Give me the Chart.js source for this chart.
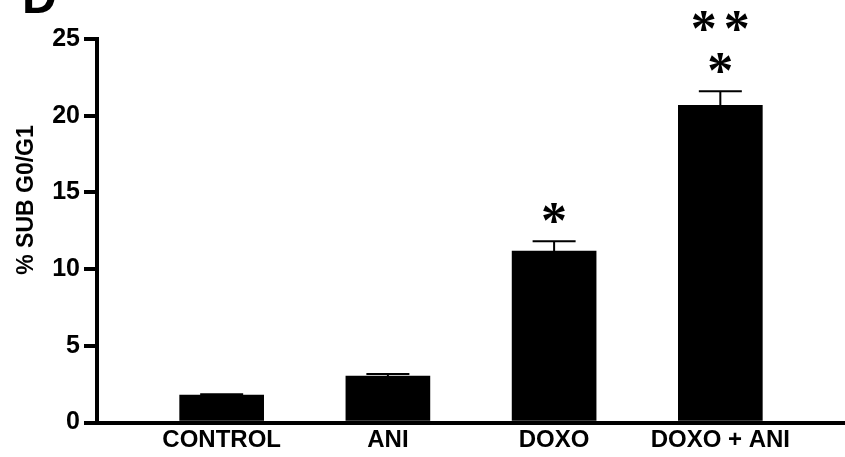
<!DOCTYPE html>
<html>
<head>
<meta charset="utf-8">
<script src="https://cdn.jsdelivr.net/npm/chart.js@4.4.1/dist/chart.umd.min.js"></script>
<style>
  html, body { margin: 0; padding: 0; background: #fff; }
  canvas { display: block; }
</style>
</head>
<body>
<canvas id="subG1Chart" width="845" height="457"></canvas>
<script>
// values
const groups = ['CONTROL', 'ANI', 'DOXO', 'DOXO + ANI']
const subG0G1 = [1.78, 3.03, 11.17, 20.68]
const semErr = [0.06, 0.13, 0.65, 0.92]
const starsLow = ['', '', '*', '*']
const starsHigh = ['', '', '', '**']
const yTicks = [0, 5, 10, 15, 20, 25]
const yTitle = '% SUB G0/G1'
const panelLetter = 'D'

const FONT = "'Liberation Sans', Arial, sans-serif"

// error bars + significance stars
const errorBars = {
    id: 'errorBars',
    afterDatasetsDraw(chart) {
        const { ctx, scales: { x, y } } = chart
        ctx.save()
        ctx.strokeStyle = '#000'
        ctx.lineWidth = 2
        subG0G1.forEach((v, i) => {
            const cx = x.getPixelForValue(i)
            const base = y.getPixelForValue(v)
            const top = y.getPixelForValue(v + semErr[i])
            ctx.beginPath()
            ctx.moveTo(cx, base)
            ctx.lineTo(cx, top)
            ctx.moveTo(cx - 21.5, top)
            ctx.lineTo(cx + 21.5, top)
            ctx.stroke()
        })

        ctx.fillStyle = '#000'
        ctx.textAlign = 'center'
        ctx.textBaseline = 'middle'
        ctx.font = "bold 52px 'Liberation Serif', serif"
        const drawStars = (s, cx, cy) => {
            const n = s.length
            for (let k = 0; k < n; k++) {
                ctx.fillText('*', cx + (k - (n - 1) / 2) * 33, cy)
            }
        }
        subG0G1.forEach((v, i) => {
            const cx = x.getPixelForValue(i)
            const top = y.getPixelForValue(v + semErr[i])
            if (starsLow[i]) drawStars(starsLow[i], cx, top - 17)
            if (starsHigh[i]) drawStars(starsHigh[i], cx, top - 59)
        })
        ctx.restore()
    }
}

// axis title and panel letter
const extraText = {
    id: 'extraText',
    afterDraw(chart) {
        const { ctx } = chart
        ctx.save()
        ctx.fillStyle = '#000'
        ctx.font = 'bold 23px ' + FONT
        ctx.translate(33, 200)
        ctx.rotate(-Math.PI / 2)
        ctx.textAlign = 'center'
        ctx.textBaseline = 'alphabetic'
        ctx.fillText(yTitle, 0, 0)
        ctx.restore()

        ctx.save()
        ctx.fillStyle = '#000'
        ctx.font = 'bold 48px ' + FONT
        ctx.textAlign = 'left'
        ctx.textBaseline = 'alphabetic'
        ctx.fillText(panelLetter, 22, 13)
        ctx.restore()
    }
}

new Chart('subG1Chart', {
    type: 'bar',
    data: {
        datasets: [{
            data: subG0G1.map((v, i) => ({ x: i, y: v })),
            backgroundColor: '#000',
            borderWidth: 0,
            barThickness: 84
        }]
    },
    options: {
        responsive: false,
        animation: false,
        devicePixelRatio: 1,
        layout: { padding: { top: 39, right: 0, bottom: 0, left: 0 } },
        plugins: {
            legend: { display: false },
            tooltip: { enabled: false }
        },
        scales: {
            x: {
                type: 'linear',
                offset: false,
                min: -0.75,
                max: 3.75,
                afterBuildTicks: scale => { scale.ticks = groups.map((g, i) => ({ value: i })) },
                afterFit: scale => { scale.height = 34.5 },
                grid: { display: false, offset: false, drawTicks: false, tickLength: 0 },
                border: { display: true, color: '#000', width: 4 },
                ticks: {
                    color: '#000',
                    padding: 3,
                    maxRotation: 0,
                    autoSkip: false,
                    font: { family: FONT, size: 24, weight: 'bold' },
                    callback: v => groups[v]
                }
            },
            y: {
                min: 0,
                max: 25,
                afterBuildTicks: scale => { scale.ticks = yTicks.map(v => ({ value: v })) },
                afterFit: scale => { scale.width = 97 },
                grid: {
                    display: true,
                    drawOnChartArea: false,
                    drawTicks: true,
                    tickLength: 13,
                    lineWidth: 4,
                    color: '#000'
                },
                border: { display: true, color: '#000', width: 4 },
                ticks: {
                    color: '#000',
                    padding: 4,
                    font: { family: FONT, size: 25, weight: 'bold' }
                }
            }
        }
    },
    plugins: [errorBars, extraText]
})
</script>
</body>
</html>
